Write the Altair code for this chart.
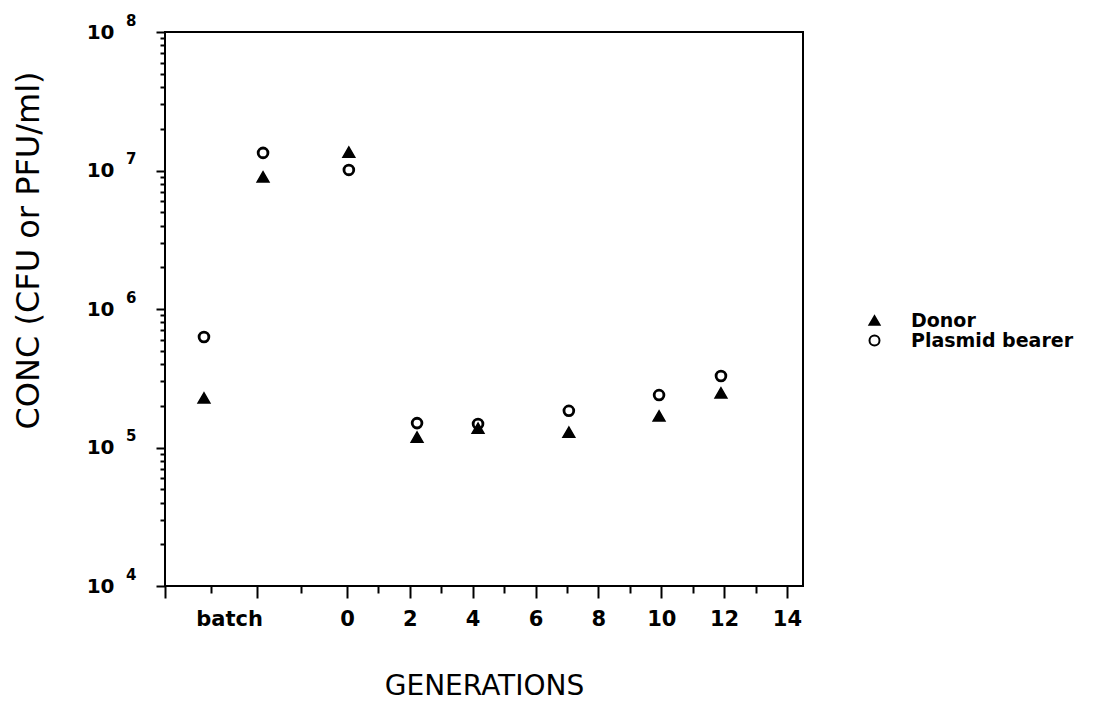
import altair as alt
import pandas as pd

# ---- data ----
generations = [-4.55, -2.67, 0.06, 2.23, 4.17, 7.06, 9.93, 11.9]
donor = [2.28e5, 9.0e6, 1.36e7, 1.19e5, 1.38e5, 1.29e5, 1.69e5, 2.48e5]
plasmid = [6.28e5, 1.34e7, 1.01e7, 1.50e5, 1.48e5, 1.84e5, 2.39e5, 3.28e5]
series = ["Donor", "Plasmid bearer"]

# axis ticks / labels
x_major = [-5.79, -2.86, 0, 2, 4, 6, 8, 10, 12, 14]
x_minor = [-4.33, -1.46, 1, 3, 5, 7, 9, 11, 13]
x_label_pos = [-3.75, 0, 2, 4, 6, 8, 10, 12, 14]
y_major = [1e4, 1e5, 1e6, 1e7, 1e8]
y_minor = [m * 10 ** k for k in range(4, 8) for m in range(2, 10)]

X_DOMAIN = [-5.79, 14.51]
Y_DOMAIN = [1e4, 1e8]

rows = []
for g, v in zip(generations, donor):
    rows.append({"gen": g, "conc": v, "series": series[0]})
for g, v in zip(generations, plasmid):
    rows.append({"gen": g, "conc": v, "series": series[1]})
df = pd.DataFrame(rows)

xs = alt.Scale(domain=X_DOMAIN, nice=False, zero=False)
ys = alt.Scale(type="log", domain=Y_DOMAIN, nice=False)

FONT = "DejaVu Sans"
tick_common = dict(domain=False, grid=False, tickColor="black", tickWidth=2,
                   labelColor="black")

leg = alt.Legend(title=None, orient="none", legendX=700, legendY=279,
                 labelFont=FONT, labelFontWeight="bold", labelFontSize=19,
                 labelColor="black", labelOffset=27, labelLimit=400,
                 symbolSize=100, symbolStrokeWidth=2,
                 symbolStrokeColor="black", rowPadding=0)

shape_scale = alt.Scale(domain=series, range=["triangle-up", "circle"])
fill_scale = alt.Scale(domain=series, range=["black", "transparent"])
stroke_scale = alt.Scale(domain=series, range=["black", "black"])

base = alt.Chart(df)

x_main = alt.X("gen:Q", scale=xs, axis=alt.Axis(
    orient="bottom", values=x_major, tickSize=12, labels=False,
    title="GENERATIONS", titleFont=FONT, titleFontSize=28,
    titleFontWeight="normal", titleColor="black",
    titleBaseline="alphabetic", titleY=108, **tick_common))
y_main = alt.Y("conc:Q", scale=ys, axis=alt.Axis(
    orient="left", values=y_major, tickSize=9, labels=False,
    title="CONC (CFU or PFU/ml)", titleFont=FONT, titleFontSize=32,
    titleFontWeight="normal", titleColor="black",
    titleBaseline="alphabetic", titleAngle=270, titleX=-127, titleY=218,
    **tick_common))

donor_pts = base.transform_filter(alt.datum.series == series[0]).mark_point(
    opacity=1, strokeWidth=1.5, size=140
).encode(
    x=x_main, y=y_main,
    shape=alt.Shape("series:N", scale=shape_scale, legend=leg),
    fill=alt.Fill("series:N", scale=fill_scale, legend=leg),
    stroke=alt.Stroke("series:N", scale=stroke_scale, legend=leg),
)

plasmid_pts = base.transform_filter(alt.datum.series == series[1]).mark_point(
    opacity=1, strokeWidth=2.8, size=95
).encode(
    x=alt.X("gen:Q", scale=xs, axis=None),
    y=alt.Y("conc:Q", scale=ys, axis=None),
    shape=alt.Shape("series:N", scale=shape_scale, legend=leg),
    fill=alt.Fill("series:N", scale=fill_scale, legend=leg),
    stroke=alt.Stroke("series:N", scale=stroke_scale, legend=leg),
)

minor = base.mark_point(opacity=0).encode(
    x=alt.X("gen:Q", scale=xs, axis=alt.Axis(
        orient="bottom", values=x_minor, tickSize=7, labels=False, title=None, **tick_common)),
    y=alt.Y("conc:Q", scale=ys, axis=alt.Axis(
        orient="left", values=y_minor, tickSize=5, labels=False, title=None, **tick_common)),
)

labels1 = base.mark_point(opacity=0).encode(
    x=alt.X("gen:Q", scale=xs, axis=alt.Axis(
        orient="bottom", values=x_label_pos, ticks=False, labelPadding=22,
        labelFont=FONT, labelFontWeight="bold", labelFontSize=21,
        labelFlush=False, labelOverlap=False,
        labelExpr="datum.value < -1 ? 'batch' : '' + datum.value",
        title=None, **tick_common)),
    y=alt.Y("conc:Q", scale=ys, axis=alt.Axis(
        orient="left", values=y_major, ticks=False, labelPadding=51,
        labelFont=FONT, labelFontWeight="bold", labelFontSize=20,
        labelFlush=False, labelOverlap=False, labelExpr="'10'",
        title=None, **tick_common)),
)

labels2 = base.mark_point(opacity=0).encode(
    x=alt.X("gen:Q", scale=xs, axis=None),
    y=alt.Y("conc:Q", scale=ys, axis=alt.Axis(
        orient="left", values=y_major, ticks=False, labelPadding=29,
        labelOffset=-12, labelFont=FONT, labelFontWeight="bold", labelFontSize=15,
        labelFlush=False, labelOverlap=False,
        labelExpr="'' + round(log(datum.value) / LN10)",
        title=None, **tick_common)),
)

chart = alt.layer(donor_pts, plasmid_pts, minor, labels1, labels2).resolve_axis(
    x="independent", y="independent"
).properties(
    width=638, height=554,
    padding={"left": 165, "top": 32, "right": 292, "bottom": 116},
    autosize=alt.AutoSizeParams(type="none"),
    background="white",
).configure_view(stroke="black", strokeWidth=2).configure_axis(grid=False)

chart.save("out.html", embed_options={"renderer": "svg", "actions": False})
